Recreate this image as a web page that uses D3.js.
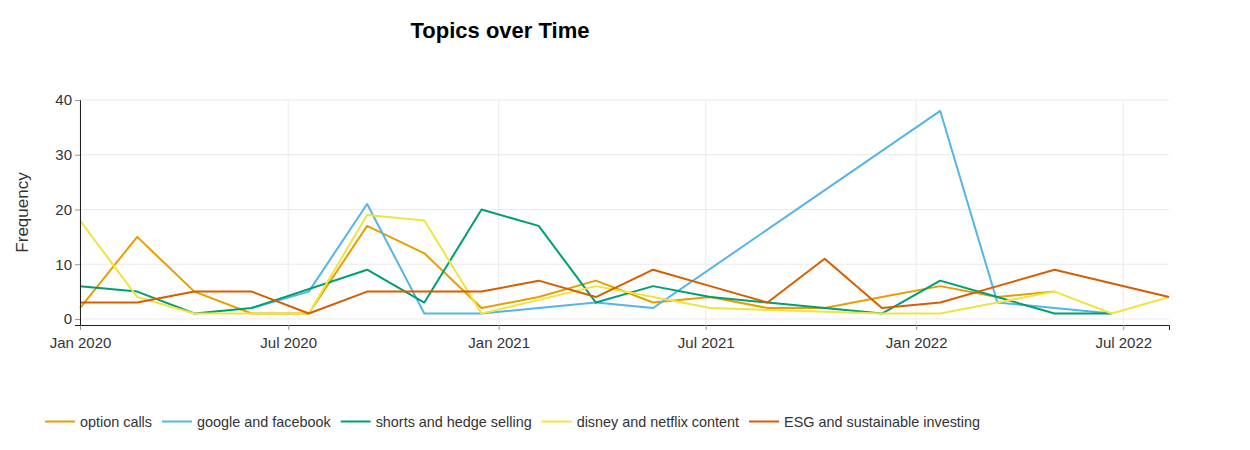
<!DOCTYPE html>
<html>
<head>
<meta charset="utf-8">
<script src="https://cdn.jsdelivr.net/npm/d3@7"></script>
<style>
	body { margin: 0; background: #fff; }
	svg { font-family: "Liberation Sans", Arial, sans-serif; }
</style>
</head>
<body>
<svg id="chart" width="1250" height="450"></svg>
<script>
// bin timestamps (roughly every 50 days)
var dates = ['2020-01-01', '2020-02-20', '2020-04-10', '2020-05-30', '2020-07-19',
	'2020-09-08', '2020-10-28', '2020-12-17', '2021-02-05', '2021-03-27',
	'2021-05-16', '2021-07-05', '2021-08-24', '2021-10-13', '2021-12-02',
	'2022-01-22', '2022-03-13', '2022-05-02', '2022-06-21', '2022-08-10'];

var topicNames = ['option calls', 'google and facebook', 'shorts and hedge selling',
	'disney and netflix content', 'ESG and sustainable investing'];

// null = topic not present in that bin
var optionCalls = [2, 15, 5, 1, 1, 17, 12, 2, 4, 7, 3, 4, 2, 2, 4, 6, 4, 5, null, null];
var googleFacebook = [null, null, null, 2, 5, 21, 1, 1, 2, 3, 2, null, null, null, null, 38, 3, 2, 1, null];
var shortsHedge = [6, 5, 1, 2, null, 9, 3, 20, 17, 3, 6, 4, 3, 2, 1, 7, 4, 1, 1, null];
var disneyNetflix = [18, 4, 1, 1, 1, 19, 18, 1, null, 6, 4, 2, null, null, 1, 1, 3, 5, 1, 4];
var esgInvesting = [3, 3, 5, 5, 1, 5, 5, 5, 7, 4, 9, 6, 3, 11, 2, 3, 6, 9, null, 4];

var yTicks = [0, 10, 20, 30, 40];

var colors = ['#E69F00', '#56B4E9', '#009E73', '#F0E442', '#D55E00'];

var seriesValues = [optionCalls, googleFacebook, shortsHedge, disneyNetflix, esgInvesting];

var parse = d3.timeParse('%Y-%m-%d');
var parsedDates = dates.map(parse);

var margin = {left: 80, right: 81, top: 100, bottom: 125};
var width = 1250, height = 450;

var svg = d3.select('#chart');

var x = d3.scaleTime()
	.domain(d3.extent(parsedDates))
	.range([margin.left, width - margin.right]);

var y = d3.scaleLinear()
	.domain([-1.1, 40])
	.range([height - margin.bottom, margin.top]);

var xTicks = d3.timeMonth.every(6).range(d3.timeMonth.floor(x.domain()[0]), x.domain()[1]);

// grid
var grid = svg.append('g').attr('class', 'grid');
grid.selectAll('line.gx')
	.data(xTicks)
	.enter().append('line')
	.attr('class', 'gx')
	.attr('x1', function(d){ return x(d); })
	.attr('x2', function(d){ return x(d); })
	.attr('y1', margin.top)
	.attr('y2', height - margin.bottom)
	.attr('stroke', '#ebebeb')
	.attr('stroke-width', 1);
grid.selectAll('line.gy')
	.data(yTicks)
	.enter().append('line')
	.attr('class', 'gy')
	.attr('x1', margin.left)
	.attr('x2', width - margin.right)
	.attr('y1', function(d){ return y(d); })
	.attr('y2', function(d){ return y(d); })
	.attr('stroke', '#ebebeb')
	.attr('stroke-width', 1);

// lines
var line = d3.line()
	.x(function(d){ return x(d.date); })
	.y(function(d){ return y(d.value); });

for (var i = 0; i < seriesValues.length; i++){
	var points = [];
	for (var t = 0; t < parsedDates.length; t++){
		if (seriesValues[i][t] !== null){
			points.push({date: parsedDates[t], value: seriesValues[i][t]});
		}
	}
	svg.append('path')
		.datum(points)
		.attr('fill', 'none')
		.attr('stroke', colors[i])
		.attr('stroke-width', 2)
		.attr('stroke-linejoin', 'round')
		.attr('d', line);
}

// axes
var xAxis = svg.append('g')
	.attr('transform', 'translate(0,' + (height - margin.bottom) + ')')
	.call(d3.axisBottom(x).tickValues(xTicks).tickFormat(d3.timeFormat('%b %Y')).tickSizeOuter(0).tickSize(5).tickPadding(7));
xAxis.select('.domain').attr('stroke', '#222');
xAxis.selectAll('.tick line').attr('stroke', '#999');
xAxis.selectAll('.tick text').attr('font-size', 15).attr('fill', '#333')
	.attr('font-family', '"Liberation Sans", Arial, sans-serif');

var yAxis = svg.append('g')
	.attr('transform', 'translate(' + margin.left + ',0)')
	.call(d3.axisLeft(y).tickValues(yTicks).tickSizeOuter(0).tickSize(5).tickPadding(3));
yAxis.select('.domain').attr('stroke', '#222');
yAxis.selectAll('.tick line').attr('stroke', '#999');
yAxis.selectAll('.tick text').attr('font-size', 15).attr('fill', '#333')
	.attr('font-family', '"Liberation Sans", Arial, sans-serif');

// title + axis label
svg.append('text')
	.attr('x', 500)
	.attr('y', 38)
	.attr('text-anchor', 'middle')
	.attr('font-size', 22)
	.attr('font-weight', 'bold')
	.attr('fill', '#000')
	.text('Topics over Time');

svg.append('text')
	.attr('transform', 'translate(28,' + ((margin.top + height - margin.bottom) / 2) + ') rotate(-90)')
	.attr('text-anchor', 'middle')
	.attr('font-size', 17)
	.attr('fill', '#333')
	.text('Frequency');

// legend
var legend = svg.append('g').attr('transform', 'translate(45,422)');
var lx = 0;
for (var i = 0; i < topicNames.length; i++){
	var item = legend.append('g').attr('transform', 'translate(' + lx + ',0)');
	item.append('line')
		.attr('x1', 0)
		.attr('x2', 30)
		.attr('y1', -0.5)
		.attr('y2', -0.5)
		.attr('stroke', colors[i])
		.attr('stroke-width', 2);
	var label = item.append('text')
		.attr('x', 35)
		.attr('y', 5)
		.attr('font-size', 14.4)
		.attr('fill', '#333')
		.text(topicNames[i]);
	lx += 35 + label.node().getComputedTextLength() + 10;
}
</script>
</body>
</html>
